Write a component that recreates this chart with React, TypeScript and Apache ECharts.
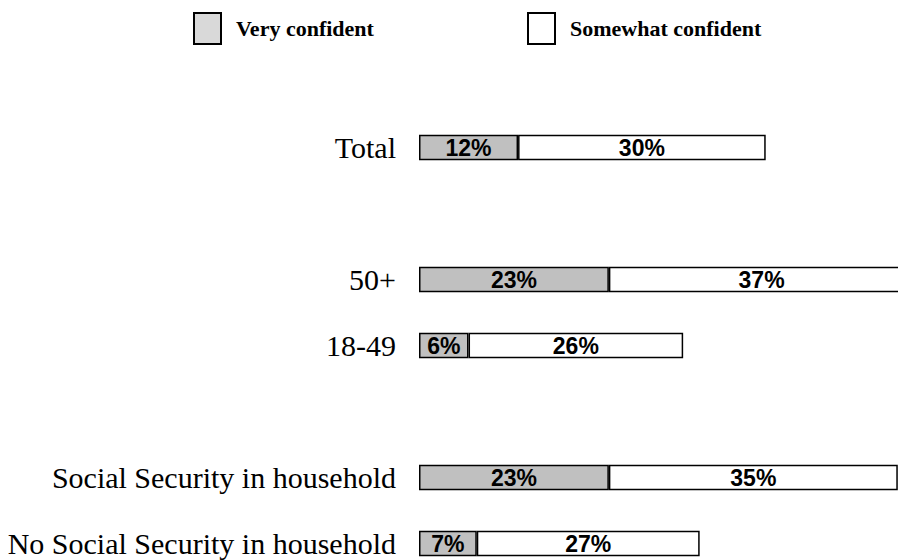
import React, { useEffect, useRef } from "react";
import * as echarts from "echarts";

// Groups shown as rows (blank entries leave a gap between groups)
const categories = [
  "Total",
  "",
  "50+",
  "18-49",
  "",
  "Social Security in household",
  "No Social Security in household",
];
const veryConfident = [12, null, 23, 6, null, 23, 7];
const somewhatConfident = [30, null, 37, 26, null, 35, 27];
const seriesNames = ["Very confident", "Somewhat confident"];

const SERIF = "'Liberation Serif', 'Times New Roman', serif";
const SANS = "'Liberation Sans', Arial, sans-serif";

export default function App() {
  const ref = useRef<HTMLDivElement>(null);

  useEffect(() => {
    if (!ref.current) return;
    const chart = echarts.init(ref.current, undefined, { renderer: "svg" });

    const barLabel = {
      show: true,
      position: "inside",
      formatter: "{c}%",
      color: "#000",
      fontFamily: SANS,
      fontWeight: "bold",
      fontSize: 23,
    };

    const legendBase = {
      top: 12,
      padding: 0,
      itemWidth: 27,
      itemHeight: 31,
      icon: "rect",
      textStyle: {
        fontFamily: SERIF,
        fontWeight: "bold",
        fontSize: 22,
        color: "#000",
        padding: [0, 0, 0, 10],
      },
    };

    chart.setOption({
      animation: false,
      backgroundColor: "#fff",
      legend: [
        {
          ...legendBase,
          left: 193,
          data: [
            {
              name: seriesNames[0],
              itemStyle: { color: "#d9d9d9", borderColor: "#000", borderWidth: 2 },
            },
          ],
        },
        {
          ...legendBase,
          left: 527,
          data: [
            {
              name: seriesNames[1],
              itemStyle: { color: "#fff", borderColor: "#000", borderWidth: 2 },
            },
          ],
        },
      ],
      grid: {
        left: 419,
        top: 114.5,
        width: 495.3,
        height: 462,
        containLabel: false,
        outerBoundsMode: "none",
      },
      xAxis: {
        type: "value",
        min: 0,
        max: 60,
        show: false,
        splitLine: { show: false },
      },
      yAxis: {
        type: "category",
        inverse: true,
        data: categories,
        axisLine: { show: false },
        axisTick: { show: false },
        splitLine: { show: false },
        axisLabel: {
          margin: 23,
          color: "#000",
          fontFamily: SERIF,
          fontSize: 30,
        },
      },
      series: [
        {
          name: seriesNames[0],
          type: "bar",
          stack: "confidence",
          barWidth: 25.5,
          data: veryConfident,
          itemStyle: { color: "#c0c0c0", borderColor: "#000", borderWidth: 1.5 },
          label: barLabel,
        },
        {
          name: seriesNames[1],
          type: "bar",
          stack: "confidence",
          barWidth: 25.5,
          data: somewhatConfident,
          itemStyle: { color: "#fff", borderColor: "#000", borderWidth: 1.5 },
          label: barLabel,
        },
      ],
    });

    return () => chart.dispose();
  }, []);

  return (
    <div
      ref={ref}
      style={{ position: "absolute", left: 0, top: 0, width: 898, height: 560 }}
    />
  );
}
